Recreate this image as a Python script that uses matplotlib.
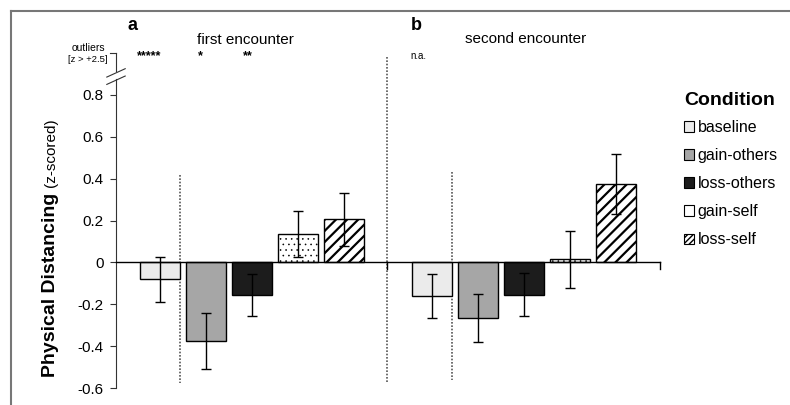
import numpy as np
import matplotlib
matplotlib.use("Agg")
from matplotlib import pyplot as plt
from matplotlib.patches import Patch

plt.rcParams['font.family'] = ['Liberation Sans', 'DejaVu Sans']
plt.rcParams['axes.unicode_minus'] = False

conditions = ['baseline', 'gain-others', 'loss-others', 'gain-self', 'loss-self']
first_vals = [-0.08, -0.375, -0.155, 0.135, 0.205]
first_err = [0.107, 0.133, 0.10, 0.11, 0.125]
second_vals = [-0.16, -0.265, -0.155, 0.015, 0.375]
second_err = [0.105, 0.113, 0.103, 0.135, 0.145]
outlier_marks = ['*****', '*', '**']
yticks = [-0.6, -0.4, -0.2, 0, 0.2, 0.4, 0.6, 0.8]
ytick_labels = ['-0.6', '-0.4', '-0.2', '0', '0.2', '0.4', '0.6', '0.8']

faces = ['#ebebeb', '#a6a6a6', '#1c1c1c', 'white', 'white']
hatches = [None, None, None, '...', '///']
hatch_lw = [1.0, 1.0, 1.0, 0.4, 1.6]

fig = plt.figure(figsize=(7.9, 4.05), dpi=100)
ax = fig.add_axes([116 / 790, 1 - 388 / 405, (660 - 116) / 790, (388 - 53) / 405])
ax.set_xlim(0, 11.83)
ax.set_ylim(-0.6, 1.0)

pos_a = np.arange(5) + 0.96
pos_b = np.arange(5) + 6.88
w = 0.87
for pos, vals, errs in [(pos_a, first_vals, first_err), (pos_b, second_vals, second_err)]:
    for i in range(5):
        with plt.rc_context({'hatch.linewidth': hatch_lw[i]}):
            ax.bar(pos[i], vals[i], width=w, color=faces[i], edgecolor='black',
                   linewidth=1.0, hatch=hatches[i], zorder=2)
    ax.errorbar(pos, vals, yerr=errs, fmt='none', ecolor='black', elinewidth=1.0,
                capsize=3.5, capthick=1.0, zorder=3)

# zero line and little ticks
ax.plot([0, 11.83], [0, 0], color='black', lw=1.0, zorder=4, clip_on=False)
ax.plot([11.83, 11.83], [0, -0.03], color='black', lw=1.0, clip_on=False)
ax.plot([5.89, 5.89], [0, -0.03], color='black', lw=1.0, clip_on=False)

# dotted separators
dot = dict(color='#555555', lw=1.2, linestyle=(0, (1, 1)), zorder=1, clip_on=False)
ax.plot([1.39, 1.39], [0.418, -0.576], **dot)
ax.plot([5.89, 5.89], [0.98, -0.576], **dot)
ax.plot([7.30, 7.30], [0.432, -0.56], **dot)

# axes styling
for s in ['top', 'right', 'bottom']:
    ax.spines[s].set_visible(False)
ax.spines['left'].set_bounds(-0.6, 0.875)
ax.spines['left'].set_color('#333333')
ax.plot([0, 0], [0.915, 1.0], color='#333333', lw=0.8, clip_on=False)
ax.plot([0, -0.12], [1.0, 1.0], color='#333333', lw=0.8, clip_on=False)
# break marks
for yb in [0.87, 0.905]:
    ax.plot([-0.2, 0.2], [yb - 0.02, yb + 0.02], color='#333333', lw=0.8, clip_on=False)
ax.set_yticks(yticks)
ax.set_yticklabels(ytick_labels, fontsize=11)
ax.tick_params(axis='y', length=4, width=0.8, pad=5, color='#333333')
ax.set_xticks([])

# annotations
fig.text(88 / 790, 1 - 48 / 405, 'outliers', fontsize=7.5, ha='center', va='center')
fig.text(88 / 790, 1 - 60 / 405, '[z > +2.5]', fontsize=6.8, ha='center', va='center')
for xs, m in zip([149, 200, 248], outlier_marks):
    fig.text(xs / 790, 1 - 56 / 405, m, fontsize=9, fontweight='bold', ha='center', va='center')
fig.text(418 / 790, 1 - 56 / 405, 'n.a.', fontsize=7, ha='center', va='center')
fig.text(133 / 790, 1 - 26 / 405, 'a', fontsize=13, fontweight='bold', ha='center', va='center')
fig.text(416 / 790, 1 - 25 / 405, 'b', fontsize=13, fontweight='bold', ha='center', va='center')
fig.text(245 / 790, 1 - 40 / 405, 'first encounter', fontsize=11, ha='center', va='center')
fig.text(526 / 790, 1 - 39 / 405, 'second encounter', fontsize=11, ha='center', va='center')

# y label in two parts
fig.text(55 / 790, 1 - 377 / 405, 'Physical Distancing', fontsize=14, fontweight='bold',
         rotation=90, rotation_mode='anchor', ha='left', va='baseline')
fig.text(55 / 790, 1 - 187 / 405, '(z-scored)', fontsize=11,
         rotation=90, rotation_mode='anchor', ha='left', va='baseline')

# legend
handles = []
for i in range(5):
    with plt.rc_context({'hatch.linewidth': 0.8}):
        handles.append(Patch(facecolor=faces[i], edgecolor='black',
                             hatch='//////' if i == 4 else None, linewidth=0.8))
leg = fig.legend(handles, conditions, loc='upper left', bbox_to_anchor=(676 / 790, 1 - 84 / 405),
                 frameon=False, fontsize=11.5, handlelength=0.65, handleheight=0.65,
                 handletextpad=0.2, labelspacing=0.82, title='Condition',
                 title_fontproperties={'weight': 'bold', 'size': 14}, borderpad=0)
leg._legend_box.align = 'left'
leg._legend_box.sep = 8

# outer frame (top and left)
fig.add_artist(plt.Line2D([11 / 790, 1], [1 - 11 / 405, 1 - 11 / 405], color='#777777', lw=1.5))
fig.add_artist(plt.Line2D([11 / 790, 11 / 790], [0, 1 - 11 / 405], color='#777777', lw=1.5))

fig.savefig('out.png', dpi=100)
